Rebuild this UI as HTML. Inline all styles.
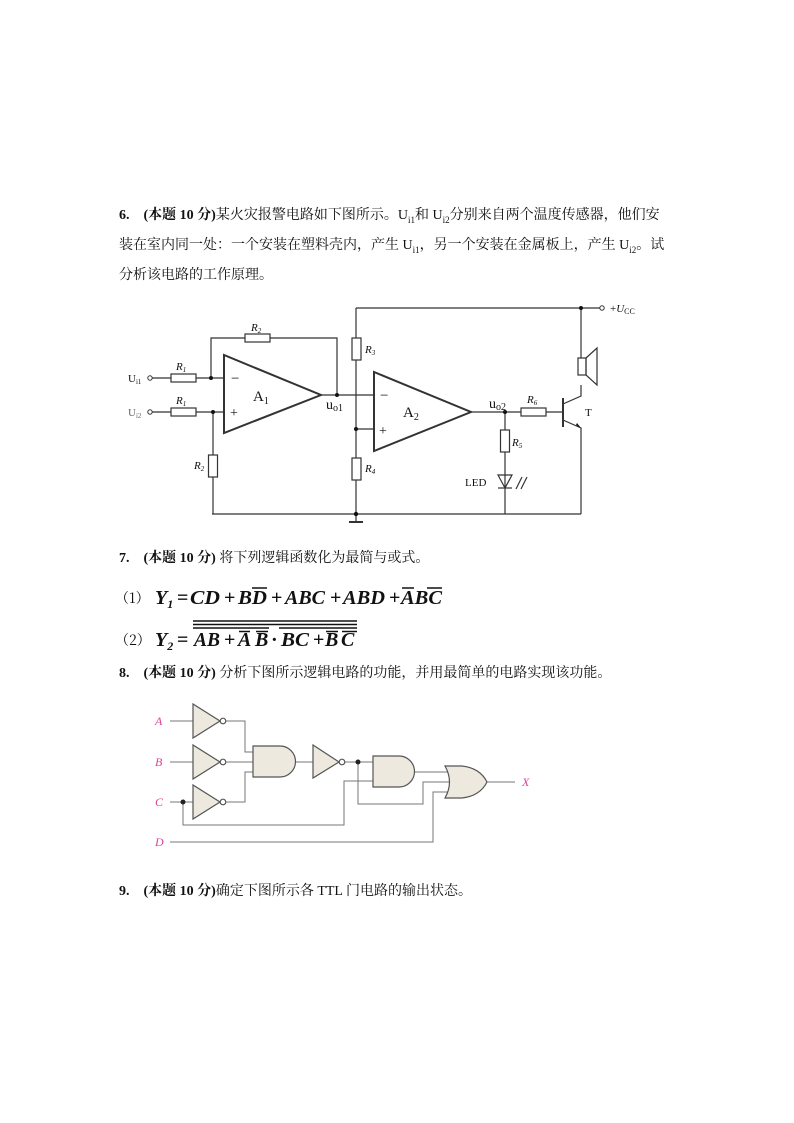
<!DOCTYPE html>
<html><head><meta charset="utf-8"><style>
body{margin:0;background:#fff;}
.pg{position:relative;width:794px;height:1123px;overflow:hidden;font-family:"Liberation Serif","Noto Serif CJK SC",serif;color:#111;}
.t{position:absolute;left:119px;font-size:14px;white-space:nowrap;line-height:16px;}
.t b{font-family:"Liberation Serif","Noto Serif CJK SC",serif;}
sub{font-size:9px;}
svg{position:absolute;left:0;top:0;}
</style></head><body><div class="pg">
<div class="t" style="top:208px"><b>6.&nbsp;&nbsp;&nbsp;&nbsp;(本题 10 分)</b>某火灾报警电路如下图所示。U<sub>i1</sub>和 U<sub>i2</sub>分别来自两个温度传感器，他们安</div>
<div class="t" style="top:238px">装在室内同一处：一个安装在塑料壳内，产生 U<sub>i1</sub>，另一个安装在金属板上，产生 U<sub>i2</sub>。试</div>
<div class="t" style="top:268px">分析该电路的工作原理。</div>
<div class="t" style="top:551px"><b>7.&nbsp;&nbsp;&nbsp;&nbsp;(本题 10 分)</b> 将下列逻辑函数化为最简与或式。</div>
<div class="t" style="top:666px"><b>8.&nbsp;&nbsp;&nbsp;&nbsp;(本题 10 分)</b> 分析下图所示逻辑电路的功能，并用最简单的电路实现该功能。</div>
<div class="t" style="top:884px"><b>9.&nbsp;&nbsp;&nbsp;&nbsp;(本题 10 分)</b>确定下图所示各 TTL 门电路的输出状态。</div>

<svg width="794" height="1123" viewBox="0 0 794 1123">
<!-- equations -->
<g font-family="Noto Serif CJK SC,serif" font-size="14" fill="#111">
<text x="115" y="603">（1）</text><text x="115" y="645">（2）</text>
</g>
<g font-family="Liberation Serif,serif" font-weight="bold" font-style="italic" font-size="20" fill="#111">
<text x="155" y="604">Y<tspan font-size="12" dy="4">1</tspan></text>
<text x="177" y="604" font-style="normal">=</text>
<text x="190" y="604" textLength="30" lengthAdjust="spacingAndGlyphs">CD</text>
<text x="224" y="604" font-style="normal">+</text>
<text x="238" y="604" textLength="29" lengthAdjust="spacingAndGlyphs">BD</text>
<text x="271" y="604" font-style="normal">+</text>
<text x="285" y="604" textLength="40" lengthAdjust="spacingAndGlyphs">ABC</text>
<text x="330" y="604" font-style="normal">+</text>
<text x="343" y="604" textLength="42" lengthAdjust="spacingAndGlyphs">ABD</text>
<text x="389" y="604" font-style="normal">+</text>
<text x="401" y="604" textLength="41" lengthAdjust="spacingAndGlyphs">ABC</text>

<text x="155" y="646">Y<tspan font-size="12" dy="4">2</tspan></text>
<text x="177" y="646" font-style="normal">=</text>
<text x="194" y="646" textLength="26" lengthAdjust="spacingAndGlyphs">AB</text>
<text x="224" y="646" font-style="normal">+</text>
<text x="238" y="646">A</text>
<text x="255" y="646">B</text>
<text x="271" y="646" font-style="normal">·</text>
<text x="281" y="646" textLength="28" lengthAdjust="spacingAndGlyphs">BC</text>
<text x="313" y="646" font-style="normal">+</text>
<text x="325" y="646">B</text>
<text x="341" y="646">C</text>
</g>
<g stroke="#111" stroke-width="1.5">
<line x1="252" y1="588" x2="267" y2="588"/><line x1="402" y1="588" x2="414" y2="588"/><line x1="427" y1="588" x2="442" y2="588"/>
<line x1="193" y1="621" x2="357" y2="621"/><line x1="193" y1="624.5" x2="357" y2="624.5"/>
<line x1="193" y1="628" x2="269" y2="628"/><line x1="279" y1="628" x2="357" y2="628"/>
<line x1="239" y1="631.5" x2="250" y2="631.5"/><line x1="256" y1="631.5" x2="268" y2="631.5"/>
<line x1="326" y1="631.5" x2="338" y2="631.5"/><line x1="342" y1="631.5" x2="357" y2="631.5"/>
</g>

<!-- circuit 1 -->
<g stroke="#333" stroke-width="1.2" fill="none">
<line x1="356" y1="308" x2="600" y2="308"/>
<line x1="356" y1="308" x2="356" y2="338"/><rect x="352" y="338" width="9" height="22"/>
<line x1="356" y1="360" x2="356" y2="458"/><rect x="352" y="458" width="9" height="22"/>
<line x1="356" y1="480" x2="356" y2="514"/>
<line x1="212" y1="514" x2="581" y2="514"/>
<line x1="356" y1="514" x2="356" y2="522"/><line x1="349" y1="522" x2="363" y2="522" stroke-width="2"/>
<polygon points="224,355 224,433 321,395" stroke-width="2"/>
<line x1="152" y1="378" x2="171" y2="378"/><rect x="171" y="374" width="25" height="8"/><line x1="196" y1="378" x2="224" y2="378"/>
<line x1="152" y1="412" x2="171" y2="412"/><rect x="171" y="408" width="25" height="8"/><line x1="196" y1="412" x2="224" y2="412"/>
<polyline points="211,378 211,338 245,338"/><rect x="245" y="334" width="25" height="8"/><polyline points="270,338 337,338 337,395"/>
<line x1="213" y1="412" x2="213" y2="455"/><rect x="208.5" y="455" width="9" height="22"/><line x1="213" y1="477" x2="213" y2="514"/>
<line x1="321" y1="395" x2="374" y2="395"/>
<polygon points="374,372 374,451 471,412" stroke-width="2"/>
<line x1="356" y1="429" x2="374" y2="429"/>
<line x1="471" y1="412" x2="521" y2="412"/><rect x="521" y="408" width="25" height="8"/><line x1="546" y1="412" x2="563" y2="412"/>
<line x1="505" y1="412" x2="505" y2="430"/><rect x="500.5" y="430" width="9" height="22"/><line x1="505" y1="452" x2="505" y2="514"/>
<polygon points="498,475 512,475 505,488"/><line x1="498" y1="488" x2="512" y2="488"/>
<line x1="516" y1="489" x2="522" y2="477"/><line x1="521" y1="489" x2="527" y2="477"/>
<line x1="563" y1="398" x2="563" y2="427" stroke-width="2"/>
<polyline points="563,404 581,396 581,385"/>
<polyline points="563,420 581,428 581,514"/>
<rect x="578" y="358" width="8" height="17"/><polygon points="586,358 597,348 597,385 586,375"/>
<line x1="581" y1="358" x2="581" y2="308"/>
</g>
<g fill="#111"><circle cx="211" cy="378" r="2"/><circle cx="213" cy="412" r="2"/><circle cx="337" cy="395" r="2"/><circle cx="356" cy="429" r="2"/><circle cx="356" cy="514" r="2.2"/><circle cx="505" cy="412" r="2"/><circle cx="581" cy="308" r="2"/><polygon points="576,425 581,428 577,423"/></g>
<g fill="#fff" stroke="#333" stroke-width="1"><circle cx="150" cy="378" r="2.2"/><circle cx="150" cy="412" r="2.2"/><circle cx="602" cy="308" r="2.2"/></g>
<g font-family="Liberation Serif,serif" font-size="11" fill="#111">
<text x="128" y="382">U<tspan font-size="7" dy="2">i1</tspan></text>
<text x="128" y="416" fill="#666">U<tspan font-size="7" dy="2">i2</tspan></text>
<text x="610" y="312">+<tspan font-style="italic">U</tspan><tspan font-size="8" dy="2">CC</tspan></text>
<g font-style="italic"><text x="176" y="370">R<tspan font-size="7" dy="2">1</tspan></text><text x="176" y="404">R<tspan font-size="7" dy="2">1</tspan></text>
<text x="251" y="331">R<tspan font-size="7" dy="2">2</tspan></text><text x="194" y="469">R<tspan font-size="7" dy="2">2</tspan></text>
<text x="365" y="353">R<tspan font-size="7" dy="2">3</tspan></text><text x="365" y="472">R<tspan font-size="7" dy="2">4</tspan></text>
<text x="512" y="446">R<tspan font-size="7" dy="2">5</tspan></text><text x="527" y="403">R<tspan font-size="7" dy="2">6</tspan></text></g>
<text x="465" y="486">LED</text><text x="585" y="416">T</text>
<text x="253" y="401" font-size="15">A<tspan font-size="10" dy="3">1</tspan></text>
<text x="403" y="417" font-size="15">A<tspan font-size="10" dy="3">2</tspan></text>
<text x="326" y="409" font-size="14">u<tspan font-size="10" dy="2">o1</tspan></text>
<text x="489" y="408" font-size="14">u<tspan font-size="10" dy="2">o2</tspan></text>
<text x="231" y="383" font-size="15">−</text><text x="230" y="417" font-size="14">+</text>
<text x="380" y="400" font-size="15">−</text><text x="379" y="435" font-size="14">+</text>
</g>

<!-- logic circuit -->
<g stroke="#777" stroke-width="1" fill="none">
<line x1="170" y1="721" x2="193" y2="721"/><line x1="170" y1="762" x2="193" y2="762"/><line x1="170" y1="802" x2="193" y2="802"/>
<polyline points="226,721 245,721 245,752 253,752"/><line x1="226" y1="762" x2="253" y2="762"/><polyline points="226,802 245,802 245,772 253,772"/>
<line x1="295" y1="762" x2="313" y2="762"/>
<line x1="345" y1="762" x2="373" y2="762"/>
<polyline points="183,802 183,825 344,825 344,781 373,781"/>
<polyline points="358,762 358,804 423,804 423,782 449,782"/>
<polyline points="414,772 448,772"/>
<polyline points="170,842 433,842 433,792 449,792"/>
<line x1="487" y1="782" x2="515" y2="782"/>
</g>
<g stroke="#555" stroke-width="1.2" fill="#ede9de">
<polygon points="193,704 193,738 220,721"/><circle cx="223" cy="721" r="2.8" fill="#fff"/>
<polygon points="193,745 193,779 220,762"/><circle cx="223" cy="762" r="2.8" fill="#fff"/>
<polygon points="193,785 193,819 220,802"/><circle cx="223" cy="802" r="2.8" fill="#fff"/>
<path d="M253,746 H280 A15.5,15.5 0 0 1 280,777 H253 Z"/>
<polygon points="313,745 313,778 339,762"/><circle cx="342" cy="762" r="2.8" fill="#fff"/>
<path d="M373,756 H399 A15.5,15.5 0 0 1 399,787 H373 Z"/>
<path d="M445,766 H462 Q480,768 487,782 Q480,796 462,798 H445 Q454,782 445,766 Z"/>
</g>
<g fill="#222"><circle cx="183" cy="802" r="2.5"/><circle cx="358" cy="762" r="2.5"/></g>
<g font-family="Liberation Serif,serif" font-style="italic" font-size="12" fill="#e0409a">
<text x="155" y="725">A</text><text x="155" y="766">B</text><text x="155" y="806">C</text><text x="155" y="846">D</text><text x="522" y="786">X</text>
</g>
</svg>
</div></body></html>
